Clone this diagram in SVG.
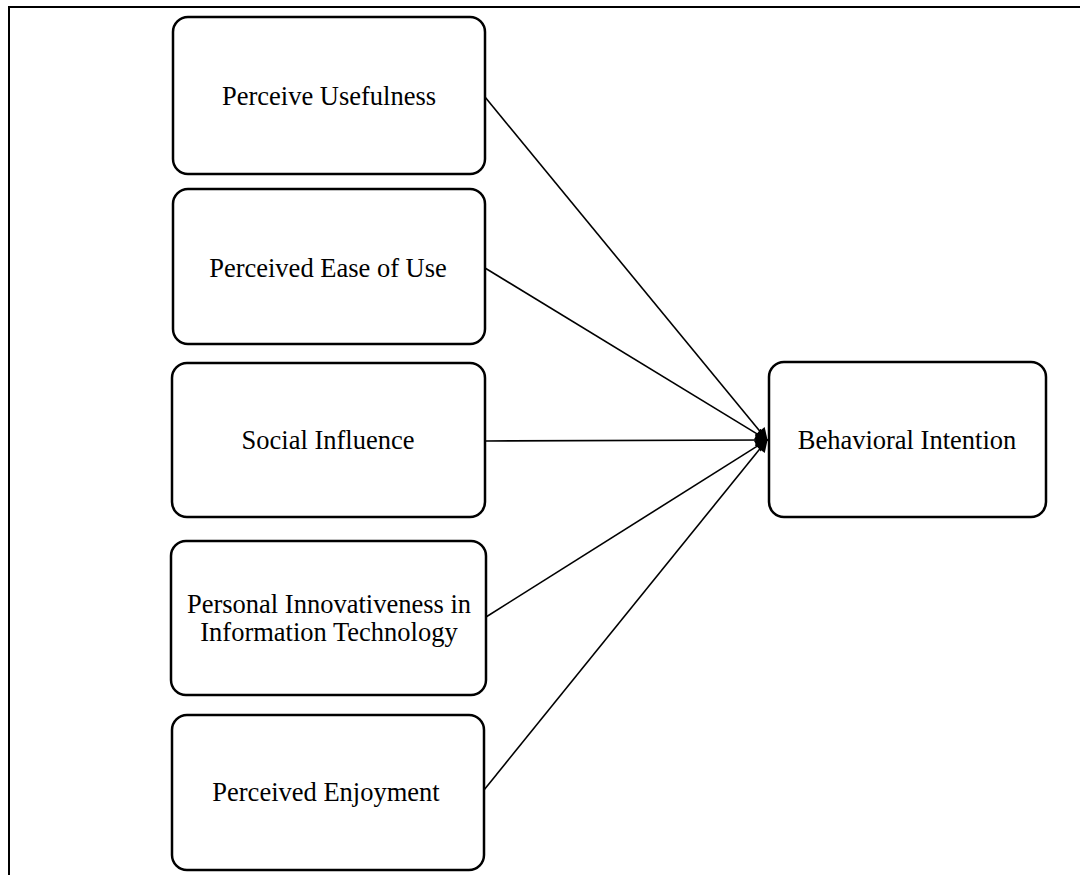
<svg xmlns="http://www.w3.org/2000/svg" width="1080" height="875" viewBox="0 0 1080 875">
<style>
.box{fill:#fff;stroke:#000;stroke-width:2.5}
.lbl{font-family:"Liberation Serif","Times New Roman",serif;font-size:26.5px;fill:#000;text-anchor:middle;dominant-baseline:central}
.con{stroke:#000;stroke-width:1.6;fill:none}
</style>
<defs>
<marker id="ah" viewBox="0 0 10 10" refX="9" refY="5" markerWidth="9" markerHeight="8" orient="auto" markerUnits="strokeWidth">
<path d="M0,0 L10,5 L0,10 z" fill="#000"/>
</marker>
</defs>
<rect width="1080" height="875" fill="#fff"/>
<path d="M9,875 V7 H1080" fill="none" stroke="#000" stroke-width="2"/>
<g id="connectors">
<line class="con" x1="485" y1="97" x2="767" y2="440" marker-end="url(#ah)"/>
<line class="con" x1="485" y1="268" x2="767" y2="440" marker-end="url(#ah)"/>
<line class="con" x1="485" y1="441" x2="767" y2="440" marker-end="url(#ah)"/>
<line class="con" x1="486" y1="617" x2="767" y2="440" marker-end="url(#ah)"/>
<line class="con" x1="484" y1="790" x2="767" y2="440" marker-end="url(#ah)"/>
</g>
<g id="pu">
<rect class="box" x="173" y="17" width="312" height="157" rx="15"/>
<text class="lbl" x="329" y="96">Perceive Usefulness</text>
</g>
<g id="peou">
<rect class="box" x="173" y="189" width="312" height="155" rx="15"/>
<text class="lbl" x="328" y="268">Perceived Ease of Use</text>
</g>
<g id="si">
<rect class="box" x="172" y="363" width="313" height="154" rx="15"/>
<text class="lbl" x="328" y="440">Social Influence</text>
</g>
<g id="piit">
<rect class="box" x="171" y="541" width="315" height="154" rx="15"/>
<text class="lbl" x="329" y="604">Personal Innovativeness in</text>
<text class="lbl" x="329" y="632">Information Technology</text>
</g>
<g id="pe">
<rect class="box" x="172" y="715" width="312" height="155" rx="15"/>
<text class="lbl" x="326" y="792">Perceived Enjoyment</text>
</g>
<g id="bi">
<rect class="box" x="769" y="362" width="277" height="155" rx="15"/>
<text class="lbl" x="907" y="440">Behavioral Intention</text>
</g>
</svg>
